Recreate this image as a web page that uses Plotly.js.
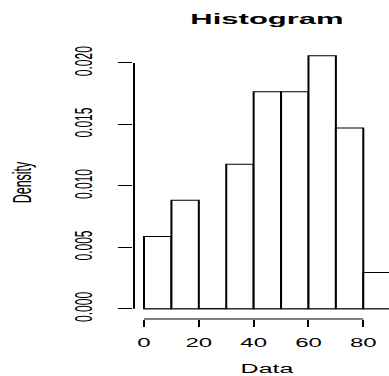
<!DOCTYPE html>
<html>
<head>
<meta charset="utf-8">
<script src="https://cdn.plot.ly/plotly-3.0.1.min.js"></script>
<style>
html, body { margin: 0; padding: 0; width: 389px; height: 376px; overflow: hidden; background: #fff; }
#chart { width: 210px; height: 376px; transform: scaleX(2); transform-origin: 0 0; }
</style>
</head>
<body>
<div id="chart"></div>
<script>
// Histogram bins (left edges), bin width and density per bin
const binStarts = [0, 10, 20, 30, 40, 50, 60, 70, 80];
const binWidth = 10;
const densities = [0.00588, 0.00882, 0, 0.01176, 0.01765, 0.01765, 0.02059, 0.01471, 0.00294];
const xTickVals = [0, 20, 40, 60, 80];
const xTickText = ["0", "20", "40", "60", "80"];
const yTickVals = [0, 0.005, 0.010, 0.015, 0.020];
const yTickText = ["0.000", "0.005", "0.010", "0.015", "0.020"];

const font = "Liberation Sans, Arial, sans-serif";
const centers = binStarts.map(b => b + binWidth / 2);
const lastEdge = binStarts[binStarts.length - 1] + binWidth;

const trace = {
  type: "bar",
  x: centers,
  y: densities,
  width: binStarts.map(() => binWidth),
  marker: { color: "#ffffff", line: { color: "#000000", width: 1 } },
  hoverinfo: "x+y"
};

const layout = {
  width: 210,
  height: 376,
  margin: { l: 67, r: 10, t: 46, b: 57, pad: 0 },
  paper_bgcolor: "#ffffff",
  plot_bgcolor: "#ffffff",
  showlegend: false,
  bargap: 0,
  font: { family: font, size: 12, color: "#000000" },
  title: {
    text: "Histogram",
    font: { family: font, size: 15.5, color: "#000000", weight: "bold" },
    x: 0.5, xref: "paper", xanchor: "center",
    y: 0.951, yref: "container", yanchor: "middle"
  },
  xaxis: {
    range: [-3.648, 93.39],
    tickvals: xTickVals,
    ticktext: xTickText,
    ticks: "outside", ticklen: 7, tickwidth: 1, tickcolor: "#000000",
    ticklabelstandoff: 6,
    showgrid: false, zeroline: false, showline: false,
    tickfont: { family: font, size: 12, color: "#000000" },
    title: { text: "Data", font: { family: font, size: 12.5, color: "#000000" }, standoff: 14 }
  },
  yaxis: {
    range: [-0.000838, 0.02138],
    tickvals: yTickVals,
    ticktext: yTickText,
    tickangle: -90,
    ticks: "outside", ticklen: 7, tickwidth: 1, tickcolor: "#000000",
    ticklabelstandoff: 8,
    showgrid: false, zeroline: false, showline: false,
    tickfont: { family: font, size: 12, color: "#000000" },
    title: { text: "Density", font: { family: font, size: 12.5, color: "#000000" }, standoff: 16 }
  },
  shapes: [
    { type: "line", xref: "x", yref: "paper", x0: xTickVals[0], x1: xTickVals[xTickVals.length - 1], y0: 0, y1: 0, line: { color: "#000000", width: 1 } },
    { type: "line", xref: "paper", yref: "y", x0: 0, x1: 0, y0: yTickVals[0], y1: yTickVals[yTickVals.length - 1], line: { color: "#000000", width: 1 } },
    { type: "line", xref: "x", yref: "y", x0: binStarts[0], x1: lastEdge, y0: 0, y1: 0, line: { color: "#000000", width: 1 }, layer: "below" }
  ]
};

Plotly.newPlot("chart", [trace], layout, { staticPlot: true, displayModeBar: false });
</script>
</body>
</html>
